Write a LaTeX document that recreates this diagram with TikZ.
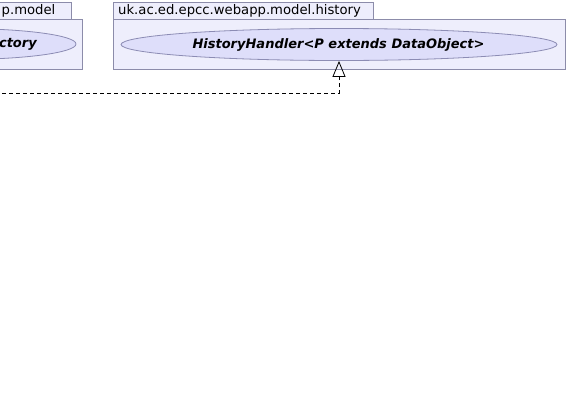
\documentclass[tikz,border=0pt]{standalone}
\usepackage{fontspec}
\setmainfont{DejaVu Sans}
\usetikzlibrary{shapes.geometric,arrows.meta}
\definecolor{pkgfill}{RGB}{238,238,252}
\definecolor{pkgline}{RGB}{140,140,170}
\definecolor{ovalfill}{RGB}{222,222,250}
\definecolor{ovalline}{RGB}{140,140,180}
\tikzset{
  pkgbox/.style={draw=pkgline, fill=pkgfill, line width=0.8pt, rectangle, inner sep=0pt},
  ovalbox/.style={draw=ovalline, fill=ovalfill, line width=0.8pt, ellipse, inner sep=0pt},
  pkgtext/.style={font=\fontsize{13.2}{15}\selectfont, inner sep=0pt, text=black},
  ovaltext/.style={font=\fontsize{13}{15}\selectfont\bfseries\itshape, inner sep=0pt, text=black},
  realize/.style={draw=black, dashed, line width=0.8pt, dash pattern=on 4pt off 3pt,
    -{Triangle[open, width=13pt, length=16pt, line width=0.8pt]}}
}
\begin{document}
\begin{tikzpicture}[x=1pt,y=-1pt]
\useasboundingbox (0,0) rectangle (568,410);
\clip (0,0) rectangle (568,410);
\fill[white] (0,0) rectangle (568,410);
% left package (cut off)
\node[pkgbox, anchor=north east, minimum width=272pt, minimum height=17pt] (tabL) at (72,2) {};
\node[pkgbox, anchor=north east, minimum width=283pt, minimum height=50pt] (bodyL) at (83,19) {};
\node[pkgtext, anchor=west] (tabLtext) at (1.5,11) {p.model};
\node[ovalbox, minimum width=230pt, minimum height=31pt] (ovalL) at (-39,44) {};
\node[ovaltext, anchor=east] (ovalLtext) at (37,44.5) {ctory};
% right package
\node[pkgbox, anchor=north west, minimum width=260pt, minimum height=17pt] (tabR) at (113,2) {};
\node[pkgbox, anchor=north west, minimum width=452pt, minimum height=50pt] (bodyR) at (113,19) {};
\node[pkgtext, anchor=west] (tabRtext) at (118,11) {uk.ac.ed.epcc.webapp.model.history};
\node[ovalbox, minimum width=436pt, minimum height=32pt] (ovalR) at (339,44.5) {};
\node[ovaltext] (ovalRtext) at (338.5,45) {HistoryHandler<P extends DataObject>};
% realization connector
\coordinate (src) at (-5,93);
\draw[realize] (src) -| (ovalR.south);
\end{tikzpicture}
\end{document}
